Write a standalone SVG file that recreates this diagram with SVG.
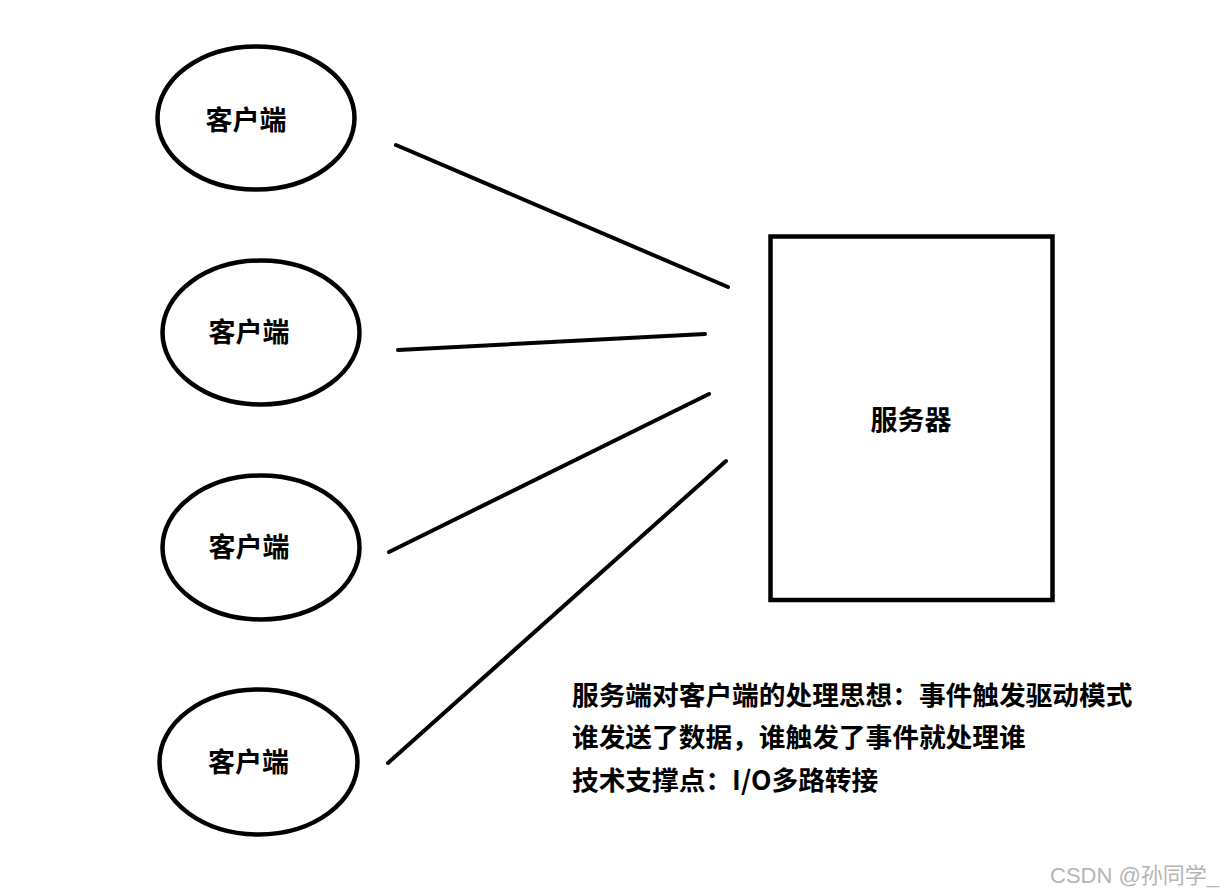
<svg xmlns="http://www.w3.org/2000/svg" width="1225" height="893" viewBox="0 0 1225 893">
<style>
.shape{fill:#fff;stroke:#000;stroke-width:4.5}
.conn{stroke:#000;stroke-width:4;stroke-linecap:round;fill:none}
.lbl{font-family:"Microsoft YaHei","Noto Sans CJK SC","Noto Sans",sans-serif;font-weight:bold;font-size:27px;fill:#000}
.note{font-family:"Microsoft YaHei","Noto Sans CJK SC","Noto Sans",sans-serif;font-weight:bold;font-size:26.7px;fill:#000}
.wm{font-family:"Liberation Sans","Noto Sans CJK SC",sans-serif;font-size:22px;fill:#b5b5b5}
</style>
<rect width="1225" height="893" fill="#fff"/>
<g id="client1"><ellipse class="shape" cx="256" cy="118" rx="98.5" ry="71.5"/><text class="lbl" x="246" y="129.5" text-anchor="middle">客户端</text></g>
<g id="client2"><ellipse class="shape" cx="261" cy="332.5" rx="98.5" ry="72"/><text class="lbl" x="249" y="341.5" text-anchor="middle">客户端</text></g>
<g id="client3"><ellipse class="shape" cx="261" cy="547.5" rx="98.5" ry="72"/><text class="lbl" x="249" y="556.5" text-anchor="middle">客户端</text></g>
<g id="client4"><ellipse class="shape" cx="258.5" cy="762" rx="99" ry="72.5"/><text class="lbl" x="248.5" y="771.5" text-anchor="middle">客户端</text></g>
<g id="server"><rect class="shape" x="770.5" y="236.5" width="282" height="363.5"/><text class="lbl" x="911" y="429.5" text-anchor="middle">服务器</text></g>
<g id="connectors">
<line class="conn" x1="396" y1="145" x2="728" y2="287"/>
<line class="conn" x1="398" y1="350" x2="705" y2="334"/>
<line class="conn" x1="389" y1="552" x2="709" y2="394"/>
<line class="conn" x1="388" y1="763" x2="726" y2="461"/>
</g>
<g id="notes">
<text class="note" x="572" y="705">服务端对客户端的处理思想：事件触发驱动模式</text>
<text class="note" x="572" y="747">谁发送了数据，谁触发了事件就处理谁</text>
<text class="note" x="572" y="790">技术支撑点：I/O多路转接</text>
</g>
<text class="wm" x="1050" y="883">CSDN @孙同学_</text>
</svg>
